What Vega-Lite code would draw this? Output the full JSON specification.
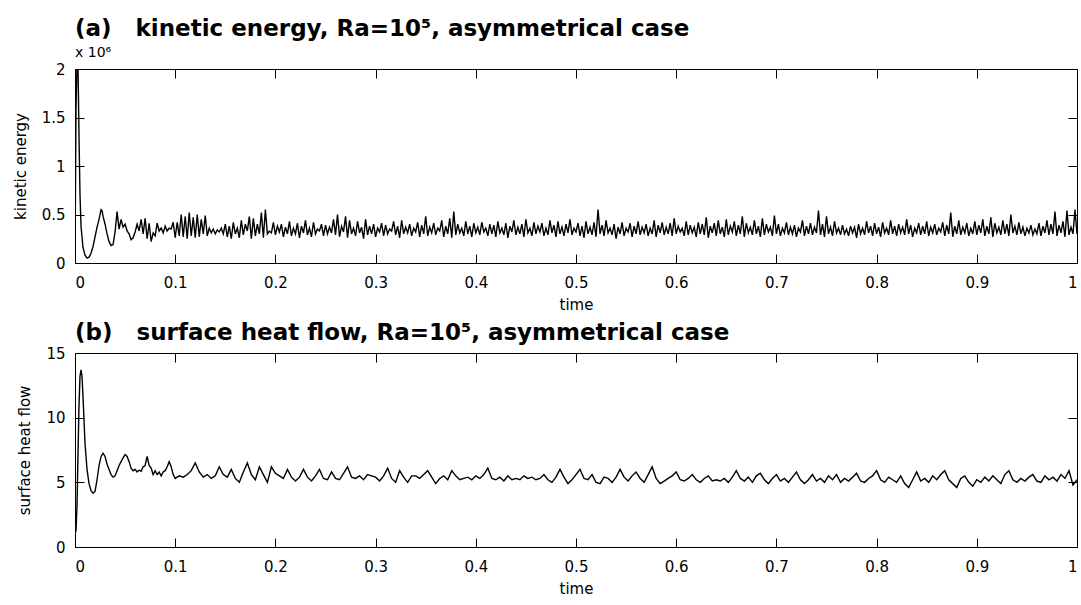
{
"$schema":"https://vega.github.io/schema/vega-lite/v6.json",
"background":"white",
"padding":{"left":12,"top":17,"right":2,"bottom":2},
"config":{
"font":"DejaVu Sans",
"view":{"stroke":"black","strokeWidth":1},
"axis":{"domainColor":"black","tickColor":"black","labelColor":"black","titleColor":"black","labelFont":"DejaVu Sans","titleFont":"DejaVu Sans","labelFontSize":15,"titleFontSize":15,"titleFontWeight":"normal","grid":false,"tickSize":-9,"domainWidth":1,"tickWidth":1},
"title":{"font":"DejaVu Sans","fontSize":23,"fontWeight":"bold","color":"black","anchor":"start","frame":"group","subtitleFont":"DejaVu Sans","subtitleFontSize":14,"subtitleColor":"black"},
"concat":{"spacing":8}
},
"datasets":{
"ke":[
{"t":0,"k":0},{"t":0.001,"k":1.6},{"t":0.002,"k":2.05},{"t":0.003,"k":2.05},{"t":0.004,"k":1.3},{"t":0.005,"k":0.7},{"t":0.006,"k":0.38},{"t":0.008,"k":0.16},{"t":0.01,"k":0.08},{"t":0.012,"k":0.05},{"t":0.014,"k":0.06},{"t":0.016,"k":0.1},{"t":0.018,"k":0.17},{"t":0.02,"k":0.27},{"t":0.022,"k":0.37},{"t":0.024,"k":0.45},{"t":0.026,"k":0.55},{"t":0.027,"k":0.54},{"t":0.028,"k":0.48},{"t":0.03,"k":0.4},{"t":0.032,"k":0.3},{"t":0.034,"k":0.22},{"t":0.036,"k":0.18},{"t":0.038,"k":0.19},{"t":0.04,"k":0.32},{"t":0.042,"k":0.53},{"t":0.044,"k":0.35},{"t":0.046,"k":0.45},{"t":0.048,"k":0.37},{"t":0.05,"k":0.4},{"t":0.052,"k":0.33},{"t":0.054,"k":0.3},{"t":0.056,"k":0.24},{"t":0.058,"k":0.26},{"t":0.06,"k":0.32},{"t":0.062,"k":0.4},{"t":0.064,"k":0.33},{"t":0.066,"k":0.45},{"t":0.068,"k":0.3},{"t":0.07,"k":0.46},{"t":0.072,"k":0.25},{"t":0.074,"k":0.41},{"t":0.076,"k":0.22},{"t":0.078,"k":0.31},{"t":0.08,"k":0.28},{"t":0.082,"k":0.41},{"t":0.084,"k":0.33},{"t":0.086,"k":0.36},{"t":0.088,"k":0.31},{"t":0.09,"k":0.38},{"t":0.092,"k":0.33},{"t":0.094,"k":0.36},{"t":0.096,"k":0.35},{"t":0.098,"k":0.42},
{"t":0.1,"k":0.26},{"t":0.102,"k":0.42},{"t":0.104,"k":0.28},{"t":0.106,"k":0.5},{"t":0.108,"k":0.27},{"t":0.11,"k":0.48},{"t":0.112,"k":0.25},{"t":0.114,"k":0.52},{"t":0.116,"k":0.28},{"t":0.118,"k":0.47},
{"t":0.12,"k":0.26},{"t":0.122,"k":0.5},{"t":0.124,"k":0.27},{"t":0.126,"k":0.45},{"t":0.128,"k":0.3},{"t":0.13,"k":0.49},{"t":0.132,"k":0.28},{"t":0.134,"k":0.36},{"t":0.136,"k":0.31},{"t":0.138,"k":0.35},
{"t":0.14,"k":0.3},{"t":0.142,"k":0.34},{"t":0.144,"k":0.32},{"t":0.146,"k":0.36},{"t":0.148,"k":0.3},{"t":0.15,"k":0.4},{"t":0.152,"k":0.27},{"t":0.154,"k":0.38},{"t":0.156,"k":0.25},{"t":0.158,"k":0.42},
{"t":0.16,"k":0.3},{"t":0.162,"k":0.36},{"t":0.164,"k":0.26},{"t":0.166,"k":0.44},{"t":0.168,"k":0.29},{"t":0.17,"k":0.4},{"t":0.172,"k":0.33},{"t":0.174,"k":0.48},{"t":0.176,"k":0.25},{"t":0.178,"k":0.46},
{"t":0.18,"k":0.28},{"t":0.182,"k":0.4},{"t":0.184,"k":0.3},{"t":0.186,"k":0.52},{"t":0.188,"k":0.26},{"t":0.19,"k":0.55},{"t":0.192,"k":0.3},{"t":0.194,"k":0.33},{"t":0.196,"k":0.31},{"t":0.198,"k":0.42},
{"t":0.2,"k":0.29},{"t":0.202,"k":0.38},{"t":0.204,"k":0.32},{"t":0.206,"k":0.4},{"t":0.208,"k":0.27},{"t":0.21,"k":0.37},{"t":0.212,"k":0.3},{"t":0.214,"k":0.43},{"t":0.216,"k":0.28},{"t":0.218,"k":0.36},
{"t":0.22,"k":0.3},{"t":0.222,"k":0.41},{"t":0.224,"k":0.26},{"t":0.226,"k":0.38},{"t":0.228,"k":0.31},{"t":0.23,"k":0.44},{"t":0.232,"k":0.29},{"t":0.234,"k":0.36},{"t":0.236,"k":0.27},{"t":0.238,"k":0.42},
{"t":0.24,"k":0.3},{"t":0.242,"k":0.35},{"t":0.244,"k":0.33},{"t":0.246,"k":0.4},{"t":0.248,"k":0.28},{"t":0.25,"k":0.39},{"t":0.252,"k":0.3},{"t":0.254,"k":0.37},{"t":0.256,"k":0.31},{"t":0.258,"k":0.45},
{"t":0.26,"k":0.29},{"t":0.262,"k":0.5},{"t":0.264,"k":0.27},{"t":0.266,"k":0.38},{"t":0.268,"k":0.32},{"t":0.27,"k":0.48},{"t":0.272,"k":0.26},{"t":0.274,"k":0.44},{"t":0.276,"k":0.3},{"t":0.278,"k":0.36},
{"t":0.28,"k":0.28},{"t":0.282,"k":0.43},{"t":0.284,"k":0.31},{"t":0.286,"k":0.37},{"t":0.288,"k":0.25},{"t":0.29,"k":0.45},{"t":0.292,"k":0.29},{"t":0.294,"k":0.38},{"t":0.296,"k":0.3},{"t":0.298,"k":0.4},
{"t":0.3,"k":0.27},{"t":0.302,"k":0.36},{"t":0.304,"k":0.32},{"t":0.306,"k":0.41},{"t":0.308,"k":0.28},{"t":0.31,"k":0.39},{"t":0.312,"k":0.3},{"t":0.314,"k":0.35},{"t":0.316,"k":0.33},{"t":0.318,"k":0.43},
{"t":0.32,"k":0.29},{"t":0.322,"k":0.38},{"t":0.324,"k":0.26},{"t":0.326,"k":0.44},{"t":0.328,"k":0.3},{"t":0.33,"k":0.37},{"t":0.332,"k":0.31},{"t":0.334,"k":0.4},{"t":0.336,"k":0.28},{"t":0.338,"k":0.36},
{"t":0.34,"k":0.32},{"t":0.342,"k":0.42},{"t":0.344,"k":0.27},{"t":0.346,"k":0.39},{"t":0.348,"k":0.3},{"t":0.35,"k":0.48},{"t":0.352,"k":0.28},{"t":0.354,"k":0.37},{"t":0.356,"k":0.31},{"t":0.358,"k":0.41},
{"t":0.36,"k":0.29},{"t":0.362,"k":0.36},{"t":0.364,"k":0.33},{"t":0.366,"k":0.44},{"t":0.368,"k":0.27},{"t":0.37,"k":0.38},{"t":0.372,"k":0.3},{"t":0.374,"k":0.46},{"t":0.376,"k":0.26},{"t":0.378,"k":0.53},
{"t":0.38,"k":0.29},{"t":0.382,"k":0.4},{"t":0.384,"k":0.31},{"t":0.386,"k":0.36},{"t":0.388,"k":0.28},{"t":0.39,"k":0.43},{"t":0.392,"k":0.3},{"t":0.394,"k":0.38},{"t":0.396,"k":0.27},{"t":0.398,"k":0.41},
{"t":0.4,"k":0.31},{"t":0.402,"k":0.37},{"t":0.404,"k":0.29},{"t":0.406,"k":0.42},{"t":0.408,"k":0.32},{"t":0.41,"k":0.36},{"t":0.412,"k":0.28},{"t":0.414,"k":0.4},{"t":0.416,"k":0.3},{"t":0.418,"k":0.39},
{"t":0.42,"k":0.27},{"t":0.422,"k":0.43},{"t":0.424,"k":0.31},{"t":0.426,"k":0.36},{"t":0.428,"k":0.29},{"t":0.43,"k":0.41},{"t":0.432,"k":0.26},{"t":0.434,"k":0.38},{"t":0.436,"k":0.32},{"t":0.438,"k":0.44},
{"t":0.44,"k":0.29},{"t":0.442,"k":0.37},{"t":0.444,"k":0.3},{"t":0.446,"k":0.4},{"t":0.448,"k":0.27},{"t":0.45,"k":0.45},{"t":0.452,"k":0.31},{"t":0.454,"k":0.36},{"t":0.456,"k":0.28},{"t":0.458,"k":0.42},
{"t":0.46,"k":0.3},{"t":0.462,"k":0.38},{"t":0.464,"k":0.32},{"t":0.466,"k":0.41},{"t":0.468,"k":0.28},{"t":0.47,"k":0.36},{"t":0.472,"k":0.29},{"t":0.474,"k":0.44},{"t":0.476,"k":0.31},{"t":0.478,"k":0.39},
{"t":0.48,"k":0.27},{"t":0.482,"k":0.43},{"t":0.484,"k":0.3},{"t":0.486,"k":0.37},{"t":0.488,"k":0.28},{"t":0.49,"k":0.4},{"t":0.492,"k":0.31},{"t":0.494,"k":0.45},{"t":0.496,"k":0.29},{"t":0.498,"k":0.36},
{"t":0.5,"k":0.32},{"t":0.502,"k":0.41},{"t":0.504,"k":0.28},{"t":0.506,"k":0.38},{"t":0.508,"k":0.26},{"t":0.51,"k":0.43},{"t":0.512,"k":0.3},{"t":0.514,"k":0.37},{"t":0.516,"k":0.29},{"t":0.518,"k":0.42},
{"t":0.52,"k":0.27},{"t":0.522,"k":0.55},{"t":0.524,"k":0.3},{"t":0.526,"k":0.39},{"t":0.528,"k":0.28},{"t":0.53,"k":0.44},{"t":0.532,"k":0.31},{"t":0.534,"k":0.36},{"t":0.536,"k":0.29},{"t":0.538,"k":0.4},
{"t":0.54,"k":0.25},{"t":0.542,"k":0.37},{"t":0.544,"k":0.3},{"t":0.546,"k":0.42},{"t":0.548,"k":0.28},{"t":0.55,"k":0.36},{"t":0.552,"k":0.32},{"t":0.554,"k":0.41},{"t":0.556,"k":0.27},{"t":0.558,"k":0.38},
{"t":0.56,"k":0.3},{"t":0.562,"k":0.43},{"t":0.564,"k":0.29},{"t":0.566,"k":0.37},{"t":0.568,"k":0.31},{"t":0.57,"k":0.4},{"t":0.572,"k":0.28},{"t":0.574,"k":0.36},{"t":0.576,"k":0.3},{"t":0.578,"k":0.44},
{"t":0.58,"k":0.27},{"t":0.582,"k":0.39},{"t":0.584,"k":0.31},{"t":0.586,"k":0.42},{"t":0.588,"k":0.29},{"t":0.59,"k":0.37},{"t":0.592,"k":0.3},{"t":0.594,"k":0.41},{"t":0.596,"k":0.28},{"t":0.598,"k":0.46},
{"t":0.6,"k":0.3},{"t":0.602,"k":0.38},{"t":0.604,"k":0.32},{"t":0.606,"k":0.36},{"t":0.608,"k":0.28},{"t":0.61,"k":0.43},{"t":0.612,"k":0.29},{"t":0.614,"k":0.39},{"t":0.616,"k":0.31},{"t":0.618,"k":0.37},
{"t":0.62,"k":0.27},{"t":0.622,"k":0.42},{"t":0.624,"k":0.3},{"t":0.626,"k":0.4},{"t":0.628,"k":0.29},{"t":0.63,"k":0.47},{"t":0.632,"k":0.26},{"t":0.634,"k":0.38},{"t":0.636,"k":0.31},{"t":0.638,"k":0.41},
{"t":0.64,"k":0.28},{"t":0.642,"k":0.44},{"t":0.644,"k":0.3},{"t":0.646,"k":0.37},{"t":0.648,"k":0.27},{"t":0.65,"k":0.45},{"t":0.652,"k":0.29},{"t":0.654,"k":0.38},{"t":0.656,"k":0.32},{"t":0.658,"k":0.43},
{"t":0.66,"k":0.28},{"t":0.662,"k":0.39},{"t":0.664,"k":0.3},{"t":0.666,"k":0.48},{"t":0.668,"k":0.27},{"t":0.67,"k":0.41},{"t":0.672,"k":0.31},{"t":0.674,"k":0.37},{"t":0.676,"k":0.29},{"t":0.678,"k":0.44},
{"t":0.68,"k":0.3},{"t":0.682,"k":0.38},{"t":0.684,"k":0.27},{"t":0.686,"k":0.46},{"t":0.688,"k":0.29},{"t":0.69,"k":0.4},{"t":0.692,"k":0.32},{"t":0.694,"k":0.37},{"t":0.696,"k":0.28},{"t":0.698,"k":0.49},
{"t":0.7,"k":0.3},{"t":0.702,"k":0.4},{"t":0.704,"k":0.28},{"t":0.706,"k":0.36},{"t":0.708,"k":0.31},{"t":0.71,"k":0.42},{"t":0.712,"k":0.29},{"t":0.714,"k":0.37},{"t":0.716,"k":0.3},{"t":0.718,"k":0.39},
{"t":0.72,"k":0.27},{"t":0.722,"k":0.36},{"t":0.724,"k":0.32},{"t":0.726,"k":0.44},{"t":0.728,"k":0.28},{"t":0.73,"k":0.38},{"t":0.732,"k":0.3},{"t":0.734,"k":0.41},{"t":0.736,"k":0.29},{"t":0.738,"k":0.37},
{"t":0.74,"k":0.31},{"t":0.742,"k":0.54},{"t":0.744,"k":0.29},{"t":0.746,"k":0.4},{"t":0.748,"k":0.27},{"t":0.75,"k":0.48},{"t":0.752,"k":0.3},{"t":0.754,"k":0.37},{"t":0.756,"k":0.28},{"t":0.758,"k":0.43},
{"t":0.76,"k":0.31},{"t":0.762,"k":0.36},{"t":0.764,"k":0.29},{"t":0.766,"k":0.39},{"t":0.768,"k":0.3},{"t":0.77,"k":0.35},{"t":0.772,"k":0.28},{"t":0.774,"k":0.38},{"t":0.776,"k":0.31},{"t":0.778,"k":0.37},
{"t":0.78,"k":0.26},{"t":0.782,"k":0.4},{"t":0.784,"k":0.3},{"t":0.786,"k":0.36},{"t":0.788,"k":0.29},{"t":0.79,"k":0.43},{"t":0.792,"k":0.31},{"t":0.794,"k":0.38},{"t":0.796,"k":0.28},{"t":0.798,"k":0.41},
{"t":0.8,"k":0.3},{"t":0.802,"k":0.37},{"t":0.804,"k":0.27},{"t":0.806,"k":0.42},{"t":0.808,"k":0.31},{"t":0.81,"k":0.36},{"t":0.812,"k":0.29},{"t":0.814,"k":0.44},{"t":0.816,"k":0.3},{"t":0.818,"k":0.38},
{"t":0.82,"k":0.28},{"t":0.822,"k":0.4},{"t":0.824,"k":0.31},{"t":0.826,"k":0.37},{"t":0.828,"k":0.29},{"t":0.83,"k":0.45},{"t":0.832,"k":0.3},{"t":0.834,"k":0.39},{"t":0.836,"k":0.27},{"t":0.838,"k":0.36},
{"t":0.84,"k":0.31},{"t":0.842,"k":0.41},{"t":0.844,"k":0.29},{"t":0.846,"k":0.38},{"t":0.848,"k":0.3},{"t":0.85,"k":0.43},{"t":0.852,"k":0.28},{"t":0.854,"k":0.37},{"t":0.856,"k":0.31},{"t":0.858,"k":0.4},
{"t":0.86,"k":0.29},{"t":0.862,"k":0.36},{"t":0.864,"k":0.32},{"t":0.866,"k":0.42},{"t":0.868,"k":0.28},{"t":0.87,"k":0.39},{"t":0.872,"k":0.3},{"t":0.874,"k":0.52},{"t":0.876,"k":0.27},{"t":0.878,"k":0.38},
{"t":0.88,"k":0.3},{"t":0.882,"k":0.44},{"t":0.884,"k":0.29},{"t":0.886,"k":0.37},{"t":0.888,"k":0.31},{"t":0.89,"k":0.41},{"t":0.892,"k":0.28},{"t":0.894,"k":0.36},{"t":0.896,"k":0.3},{"t":0.898,"k":0.43},
{"t":0.9,"k":0.29},{"t":0.902,"k":0.39},{"t":0.904,"k":0.31},{"t":0.906,"k":0.45},{"t":0.908,"k":0.28},{"t":0.91,"k":0.38},{"t":0.912,"k":0.3},{"t":0.914,"k":0.47},{"t":0.916,"k":0.27},{"t":0.918,"k":0.41},
{"t":0.92,"k":0.31},{"t":0.922,"k":0.37},{"t":0.924,"k":0.29},{"t":0.926,"k":0.44},{"t":0.928,"k":0.3},{"t":0.93,"k":0.4},{"t":0.932,"k":0.28},{"t":0.934,"k":0.5},{"t":0.936,"k":0.31},{"t":0.938,"k":0.38},
{"t":0.94,"k":0.29},{"t":0.942,"k":0.42},{"t":0.944,"k":0.3},{"t":0.946,"k":0.37},{"t":0.948,"k":0.28},{"t":0.95,"k":0.36},{"t":0.952,"k":0.31},{"t":0.954,"k":0.39},{"t":0.956,"k":0.29},{"t":0.958,"k":0.35},
{"t":0.96,"k":0.3},{"t":0.962,"k":0.41},{"t":0.964,"k":0.28},{"t":0.966,"k":0.38},{"t":0.968,"k":0.31},{"t":0.97,"k":0.44},{"t":0.972,"k":0.29},{"t":0.974,"k":0.4},{"t":0.976,"k":0.3},{"t":0.978,"k":0.53},
{"t":0.98,"k":0.28},{"t":0.982,"k":0.39},{"t":0.984,"k":0.31},{"t":0.986,"k":0.43},{"t":0.988,"k":0.27},{"t":0.99,"k":0.54},{"t":0.992,"k":0.29},{"t":0.994,"k":0.37},{"t":0.996,"k":0.3},{"t":0.998,"k":0.55},
{"t":1,"k":0.3}
],
"hf":[
{"t":0,"q":1.0},{"t":0.001,"q":1.3},{"t":0.002,"q":3.2},{"t":0.003,"q":7.2},{"t":0.004,"q":11.0},{"t":0.005,"q":13.2},{"t":0.006,"q":13.7},{"t":0.007,"q":13.2},{"t":0.008,"q":11.6},{"t":0.01,"q":8.0},{"t":0.012,"q":6.0},{"t":0.014,"q":4.9},{"t":0.016,"q":4.35},{"t":0.018,"q":4.15},{"t":0.02,"q":4.3},{"t":0.022,"q":5.2},{"t":0.024,"q":6.3},{"t":0.026,"q":7.0},{"t":0.028,"q":7.25},{"t":0.03,"q":7.0},{"t":0.032,"q":6.4},{"t":0.034,"q":6.0},{"t":0.036,"q":5.6},{"t":0.038,"q":5.4},{"t":0.04,"q":5.5},{"t":0.042,"q":5.9},{"t":0.044,"q":6.3},{"t":0.046,"q":6.6},{"t":0.048,"q":6.9},{"t":0.05,"q":7.15},{"t":0.052,"q":7.0},{"t":0.054,"q":6.6},{"t":0.056,"q":6.1},{"t":0.058,"q":5.9},{"t":0.06,"q":6.0},{"t":0.062,"q":5.8},{"t":0.064,"q":5.95},{"t":0.066,"q":5.85},{"t":0.068,"q":6.2},{"t":0.07,"q":6.3},{"t":0.072,"q":7.0},{"t":0.074,"q":6.3},{"t":0.076,"q":6.1},{"t":0.078,"q":5.6},{"t":0.08,"q":5.9},{"t":0.082,"q":5.6},{"t":0.084,"q":5.8},{"t":0.086,"q":5.5},{"t":0.088,"q":5.8},{"t":0.09,"q":5.9},{"t":0.092,"q":6.2},{"t":0.094,"q":6.6},{"t":0.096,"q":6.2},{"t":0.098,"q":5.6},
{"t":0.1,"q":5.3},{"t":0.104,"q":5.5},{"t":0.108,"q":5.4},{"t":0.112,"q":5.6},{"t":0.116,"q":5.9},{"t":0.12,"q":6.5},{"t":0.124,"q":5.8},{"t":0.128,"q":5.4},{"t":0.132,"q":5.6},{"t":0.136,"q":5.3},
{"t":0.14,"q":5.5},{"t":0.144,"q":6.2},{"t":0.148,"q":5.6},{"t":0.152,"q":5.4},{"t":0.156,"q":6.0},{"t":0.16,"q":5.3},{"t":0.164,"q":5.0},{"t":0.168,"q":5.8},{"t":0.172,"q":6.5},{"t":0.176,"q":5.6},
{"t":0.18,"q":5.2},{"t":0.184,"q":6.2},{"t":0.188,"q":5.6},{"t":0.192,"q":5.0},{"t":0.196,"q":6.2},{"t":0.2,"q":5.7},{"t":0.204,"q":5.5},{"t":0.208,"q":5.3},{"t":0.212,"q":6.0},{"t":0.216,"q":5.4},
{"t":0.22,"q":5.1},{"t":0.224,"q":5.4},{"t":0.228,"q":6.0},{"t":0.232,"q":5.4},{"t":0.236,"q":5.1},{"t":0.24,"q":5.5},{"t":0.244,"q":6.0},{"t":0.248,"q":5.3},{"t":0.252,"q":5.2},{"t":0.256,"q":5.8},
{"t":0.26,"q":5.3},{"t":0.264,"q":5.2},{"t":0.268,"q":5.7},{"t":0.272,"q":6.2},{"t":0.276,"q":5.4},{"t":0.28,"q":5.3},{"t":0.284,"q":5.5},{"t":0.288,"q":5.2},{"t":0.292,"q":5.6},{"t":0.296,"q":5.5},
{"t":0.3,"q":5.4},{"t":0.304,"q":5.1},{"t":0.308,"q":5.5},{"t":0.312,"q":6.1},{"t":0.316,"q":5.3},{"t":0.32,"q":5.0},{"t":0.324,"q":5.9},{"t":0.328,"q":5.4},{"t":0.332,"q":5.0},{"t":0.336,"q":5.5},
{"t":0.34,"q":5.5},{"t":0.344,"q":5.3},{"t":0.348,"q":5.6},{"t":0.352,"q":5.9},{"t":0.356,"q":5.4},{"t":0.36,"q":4.9},{"t":0.364,"q":5.3},{"t":0.368,"q":5.5},{"t":0.372,"q":5.2},{"t":0.376,"q":5.9},
{"t":0.38,"q":5.5},{"t":0.384,"q":5.2},{"t":0.388,"q":5.3},{"t":0.392,"q":5.4},{"t":0.396,"q":5.2},{"t":0.4,"q":5.5},{"t":0.404,"q":5.3},{"t":0.408,"q":5.6},{"t":0.412,"q":6.1},{"t":0.416,"q":5.3},
{"t":0.42,"q":5.2},{"t":0.424,"q":5.4},{"t":0.428,"q":5.1},{"t":0.432,"q":5.5},{"t":0.436,"q":5.2},{"t":0.44,"q":5.3},{"t":0.444,"q":5.2},{"t":0.448,"q":5.5},{"t":0.452,"q":5.3},{"t":0.456,"q":5.4},
{"t":0.46,"q":5.2},{"t":0.464,"q":5.3},{"t":0.468,"q":5.6},{"t":0.472,"q":5.2},{"t":0.476,"q":5.0},{"t":0.48,"q":5.4},{"t":0.484,"q":6.0},{"t":0.488,"q":5.4},{"t":0.492,"q":4.9},{"t":0.496,"q":5.2},
{"t":0.5,"q":5.6},{"t":0.504,"q":6.0},{"t":0.508,"q":5.3},{"t":0.512,"q":5.2},{"t":0.516,"q":5.6},{"t":0.52,"q":5.0},{"t":0.524,"q":4.9},{"t":0.528,"q":5.4},{"t":0.532,"q":5.3},{"t":0.536,"q":5.0},
{"t":0.54,"q":5.4},{"t":0.544,"q":6.0},{"t":0.548,"q":5.4},{"t":0.552,"q":5.1},{"t":0.556,"q":5.5},{"t":0.56,"q":5.8},{"t":0.564,"q":5.3},{"t":0.568,"q":5.0},{"t":0.572,"q":5.6},{"t":0.576,"q":6.2},
{"t":0.58,"q":5.3},{"t":0.584,"q":4.9},{"t":0.588,"q":5.1},{"t":0.592,"q":5.3},{"t":0.596,"q":5.5},{"t":0.6,"q":5.8},{"t":0.604,"q":5.2},{"t":0.608,"q":5.1},{"t":0.612,"q":5.3},{"t":0.616,"q":5.6},
{"t":0.62,"q":5.2},{"t":0.624,"q":5.0},{"t":0.628,"q":5.3},{"t":0.632,"q":5.5},{"t":0.636,"q":5.1},{"t":0.64,"q":5.2},{"t":0.644,"q":5.1},{"t":0.648,"q":5.3},{"t":0.652,"q":5.0},{"t":0.656,"q":5.4},
{"t":0.66,"q":5.9},{"t":0.664,"q":5.3},{"t":0.668,"q":5.1},{"t":0.672,"q":5.4},{"t":0.676,"q":5.0},{"t":0.68,"q":5.5},{"t":0.684,"q":5.7},{"t":0.688,"q":5.2},{"t":0.692,"q":4.9},{"t":0.696,"q":5.3},
{"t":0.7,"q":5.6},{"t":0.704,"q":5.1},{"t":0.708,"q":5.3},{"t":0.712,"q":5.0},{"t":0.716,"q":5.4},{"t":0.72,"q":5.8},{"t":0.724,"q":5.2},{"t":0.728,"q":4.9},{"t":0.732,"q":5.2},{"t":0.736,"q":5.6},
{"t":0.74,"q":5.1},{"t":0.744,"q":5.3},{"t":0.748,"q":5.0},{"t":0.752,"q":5.5},{"t":0.756,"q":5.2},{"t":0.76,"q":5.6},{"t":0.764,"q":5.0},{"t":0.768,"q":5.3},{"t":0.772,"q":5.1},{"t":0.776,"q":5.4},
{"t":0.78,"q":5.7},{"t":0.784,"q":5.1},{"t":0.788,"q":5.0},{"t":0.792,"q":5.3},{"t":0.796,"q":5.5},{"t":0.8,"q":5.9},{"t":0.804,"q":5.2},{"t":0.808,"q":5.0},{"t":0.812,"q":5.4},{"t":0.816,"q":5.2},
{"t":0.82,"q":5.0},{"t":0.824,"q":5.5},{"t":0.828,"q":4.9},{"t":0.832,"q":4.6},{"t":0.836,"q":5.2},{"t":0.84,"q":5.8},{"t":0.844,"q":5.1},{"t":0.848,"q":5.3},{"t":0.852,"q":5.0},{"t":0.856,"q":5.5},
{"t":0.86,"q":5.2},{"t":0.864,"q":5.6},{"t":0.868,"q":5.9},{"t":0.872,"q":5.2},{"t":0.876,"q":4.9},{"t":0.88,"q":4.6},{"t":0.884,"q":5.3},{"t":0.888,"q":5.5},{"t":0.892,"q":5.0},{"t":0.896,"q":4.7},
{"t":0.9,"q":5.2},{"t":0.904,"q":5.0},{"t":0.908,"q":5.4},{"t":0.912,"q":5.1},{"t":0.916,"q":5.5},{"t":0.92,"q":5.2},{"t":0.924,"q":4.9},{"t":0.928,"q":5.6},{"t":0.932,"q":5.9},{"t":0.936,"q":5.2},
{"t":0.94,"q":5.0},{"t":0.944,"q":5.3},{"t":0.948,"q":5.1},{"t":0.952,"q":5.4},{"t":0.956,"q":5.6},{"t":0.96,"q":5.1},{"t":0.964,"q":5.0},{"t":0.968,"q":5.5},{"t":0.972,"q":5.2},{"t":0.976,"q":5.4},
{"t":0.98,"q":5.1},{"t":0.984,"q":5.6},{"t":0.988,"q":5.3},{"t":0.992,"q":5.9},{"t":0.996,"q":4.8},{"t":1,"q":5.2}
]
},
"vconcat":[
{
"width":1002,"height":194,
"title":{"text":"(a)\u00a0\u00a0\u00a0kinetic energy, Ra=10⁵, asymmetrical case","subtitle":"x 10⁶","offset":2,"subtitlePadding":5},
"data":{"name":"ke"},
"layer":[
{"mark":{"type":"line","color":"black","strokeWidth":1.4,"clip":true},
"encoding":{
"x":{"field":"t","type":"quantitative","scale":{"domain":[0,1],"nice":false},"axis":{"title":"time","values":[0,0.1,0.2,0.3,0.4,0.5,0.6,0.7,0.8,0.9,1],"format":"~g","labelPadding":21,"titlePadding":7}},
"y":{"field":"k","type":"quantitative","scale":{"domain":[0,2],"nice":false},"axis":{"title":"kinetic energy","values":[0,0.5,1,1.5,2],"format":"~g","labelPadding":19,"titlePadding":13}}}},
{"mark":{"type":"line","opacity":0},
"encoding":{
"x":{"field":"t","type":"quantitative","axis":{"orient":"top","labels":false,"title":null,"domain":false,"values":[0,0.1,0.2,0.3,0.4,0.5,0.6,0.7,0.8,0.9,1]}},
"y":{"field":"k","type":"quantitative","axis":{"orient":"right","labels":false,"title":null,"domain":false,"values":[0,0.5,1,1.5,2]}}}}
],
"resolve":{"axis":{"x":"independent","y":"independent"}}
},
{
"width":1002,"height":194,
"title":{"text":"(b)\u00a0\u00a0\u00a0surface heat flow, Ra=10⁵, asymmetrical case","offset":1},
"data":{"name":"hf"},
"layer":[
{"mark":{"type":"line","color":"black","strokeWidth":1.4,"clip":true},
"encoding":{
"x":{"field":"t","type":"quantitative","scale":{"domain":[0,1],"nice":false},"axis":{"title":"time","values":[0,0.1,0.2,0.3,0.4,0.5,0.6,0.7,0.8,0.9,1],"format":"~g","labelPadding":21,"titlePadding":7}},
"y":{"field":"q","type":"quantitative","scale":{"domain":[0,15],"nice":false},"axis":{"title":"surface heat flow","values":[0,5,10,15],"format":"~g","labelPadding":19,"titlePadding":13}}}},
{"mark":{"type":"line","opacity":0},
"encoding":{
"x":{"field":"t","type":"quantitative","axis":{"orient":"top","labels":false,"title":null,"domain":false,"values":[0,0.1,0.2,0.3,0.4,0.5,0.6,0.7,0.8,0.9,1]}},
"y":{"field":"q","type":"quantitative","axis":{"orient":"right","labels":false,"title":null,"domain":false,"values":[0,5,10,15]}}}}
],
"resolve":{"axis":{"x":"independent","y":"independent"}}
}
]
}
